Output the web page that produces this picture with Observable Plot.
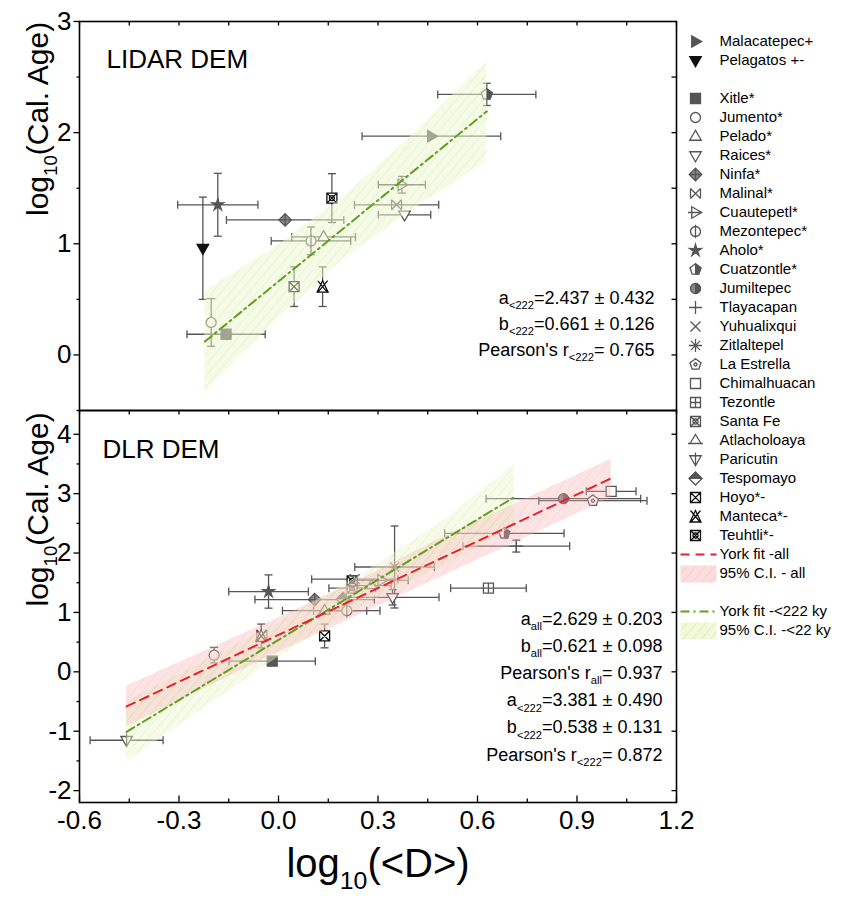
<!DOCTYPE html>
<html><head><meta charset="utf-8">
<script src="https://cdn.jsdelivr.net/npm/d3@7"></script>
<script src="https://cdn.jsdelivr.net/npm/@observablehq/plot@0.6"></script>
<style>
body{margin:0;background:#fff;}
#chart{position:relative;width:845px;height:901px;}
#chart svg{position:absolute;left:0;top:0;overflow:visible;background:transparent;}
</style></head><body><div id="chart"></div>
<script>
// ---------- data ----------
// legend order (gap slots are unnamed spacers)
const legendSlots = ["Malacatepec+", "Pelagatos +-", "gap1", "Xitle*", "Jumento*", "Pelado*", "Raices*", "Ninfa*", "Malinal*",
  "Cuautepetl*", "Mezontepec*", "Aholo*", "Cuatzontle*", "Jumiltepec", "Tlayacapan", "Yuhualixqui", "Zitlaltepel",
  "La Estrella", "Chimalhuacan", "Tezontle", "Santa Fe", "Atlacholoaya", "Paricutin", "Tespomayo", "Hoyo*-",
  "Manteca*-", "Teuhtli*-", "fitAll", "ciAll", "gap2", "fit222", "ci222"];
const fitLabels = {fitAll: "York fit -all", ciAll: "95% C.I. - all", fit222: "York fit -<222 ky", ci222: "95% C.I. -<22 ky"};

// LIDAR DEM panel
const lidarName = ["Malacatepec+", "Pelagatos +-", "Xitle*", "Jumento*", "Pelado*", "Mezontepec*", "Raices*", "Ninfa*",
  "Malinal*", "Cuautepetl*", "Aholo*", "Cuatzontle*", "Hoyo*-", "Manteca*-", "Teuhtli*-"];
const lidarX    = [0.461, -0.228, -0.158, -0.203, 0.136, 0.098, 0.380, 0.020, 0.356, 0.372, -0.183, 0.628, 0.047, 0.133, 0.161];
const lidarY    = [1.968, 0.960, 0.186, 0.292, 1.062, 1.026, 1.261, 1.215, 1.351, 1.531, 1.351, 2.344, 0.614, 0.614, 1.411];
const lidarXErr = [0.209, 0, 0.118, 0, 0.096, 0.120, 0.079, 0.177, 0.127, 0.071, 0.121, 0.148, 0, 0, 0];
const lidarYErr = [0, 0.46, 0, 0.215, 0, 0.125, 0, 0, 0, 0.075, 0.283, 0.100, 0.178, 0.178, 0.220];

// DLR DEM panel
const dlrName = ["Paricutin", "Jumento*", "Xitle*", "Malinal*", "Manteca*-", "Hoyo*-", "Aholo*", "Ninfa*", "Pelado*",
  "Mezontepec*", "Tespomayo", "Santa Fe", "Teuhtli*-", "Yuhualixqui", "Atlacholoaya", "Cuautepetl*", "Raices*",
  "Zitlaltepel", "Tezontle", "Cuatzontle*", "Tlayacapan", "Jumiltepec", "La Estrella", "Chimalhuacan"];
const dlrX    = [-0.458, -0.194, -0.019, -0.050, -0.052, 0.139, -0.030, 0.109, 0.139, 0.206, 0.194, 0.222, 0.222, 0.230, 0.280, 0.311, 0.344, 0.350, 0.633, 0.681, 0.717, 0.859, 0.948, 1.003];
const dlrY    = [-1.152, 0.281, 0.179, 0.620, 0.604, 0.604, 1.352, 1.216, 1.029, 1.029, 1.227, 1.408, 1.530, 1.560, 1.450, 1.540, 1.255, 1.765, 1.408, 2.332, 2.117, 2.916, 2.882, 3.040];
const dlrXErr = [0.110, 0, 0.130, 0, 0, 0, 0.120, 0.180, 0.127, 0.100, 0, 0.070, 0, 0.130, 0.060, 0.080, 0.140, 0.120, 0.114, 0.180, 0.161, 0.233, 0.163, 0.075];
const dlrYErr = [0, 0.13, 0, 0, 0.20, 0.20, 0.28, 0, 0, 0, 0, 0, 0, 0, 0, 0, 0.13, 0.69, 0, 0, 0.10, 0, 0, 0];

// York fits: log10(age) = a·log10(D) + b
const fitLidar222 = {a: 2.437, b: 0.661, x: [-0.222, 0.628]};
const fitDlrAll = {a: 2.629, b: 0.621, x: [-0.458, 1.003]};
const fitDlr222 = {a: 3.381, b: 0.538, x: [-0.458, 0.711]};

// 95 % confidence bands
const bandLidarX  = [-0.222, 0.0, 0.2, 0.4, 0.628];
const bandLidarLo = [-0.33, 0.33, 0.87, 1.30, 1.74];
const bandLidarHi = [0.57, 0.99, 1.43, 1.97, 2.64];
const bandDlrAllX  = [-0.458, 0.0, 0.25, 0.5, 1.003];
const bandDlrAllLo = [-0.93, 0.33, 0.98, 1.62, 2.93];
const bandDlrAllHi = [-0.24, 0.91, 1.56, 2.28, 3.58];
const bandDlr222X  = [-0.458, 0.0, 0.25, 0.5, 0.711];
const bandDlr222Lo = [-1.52, 0.25, 1.10, 1.80, 2.45];
const bandDlr222Hi = [-0.50, 0.83, 1.64, 2.56, 3.48];

// axis ticks
const xMajor = [-0.6, -0.3, 0.0, 0.3, 0.6, 0.9, 1.2];
const xMinor = [-0.45, -0.15, 0.15, 0.45, 0.75, 1.05];
const yMajorLidar = [0, 1, 2, 3];
const yMinorLidar = [-0.5, 0.5, 1.5, 2.5];
const yMajorDlr = [-2, -1, 0, 1, 2, 3, 4];
const yMinorDlr = [-1.5, -0.5, 0.5, 1.5, 2.5, 3.5];

const annLidar = ["a_{<222}=2.437 ± 0.432", "b_{<222}=0.661 ± 0.126", "Pearson's r_{<222}= 0.765"];
const annDlr = ["a_{all}=2.629 ± 0.203", "b_{all}=0.621 ± 0.098", "Pearson's r_{all}= 0.937",
  "a_{<222}=3.381 ± 0.490", "b_{<222}=0.538 ± 0.131", "Pearson's r_{<222}= 0.872"];

// ---------- marker shapes ----------
const GRAY = "#555", DARK = "#111";
function sym(draw) { return {draw(ctx, size) { draw(ctx, Math.sqrt(size / Math.PI)); }}; }
function poly(c, pts) { c.moveTo(pts[0][0], pts[0][1]); for (let i = 1; i < pts.length; ++i) c.lineTo(pts[i][0], pts[i][1]); c.closePath(); }
function seg(c, x1, y1, x2, y2) { c.moveTo(x1, y1); c.lineTo(x2, y2); }
function circ(c, r) { c.moveTo(r, 0); c.arc(0, 0, r, 0, 2 * Math.PI); }
function ngon(n, r) { return d3.range(n).map(i => { const a = -Math.PI / 2 + i * 2 * Math.PI / n; return [r * Math.cos(a), r * Math.sin(a)]; }); }
function star(r) { return d3.range(10).map(i => { const a = -Math.PI / 2 + i * Math.PI / 5, k = i % 2 ? 0.45 * r : 1.25 * r; return [k * Math.cos(a), k * Math.sin(a)]; }); }

const SHAPES = {
  square: sym((c, r) => poly(c, [[-r, -r], [r, -r], [r, r], [-r, r]])),
  circle: sym((c, r) => circ(c, r)),
  triUp: sym((c, r) => poly(c, [[0, -1.25 * r], [1.15 * r, 0.75 * r], [-1.15 * r, 0.75 * r]])),
  triDown: sym((c, r) => poly(c, [[0, 1.25 * r], [1.15 * r, -0.75 * r], [-1.15 * r, -0.75 * r]])),
  triRight: sym((c, r) => poly(c, [[1.25 * r, 0], [-0.75 * r, -1.15 * r], [-0.75 * r, 1.15 * r]])),
  diamondCross: sym((c, r) => { poly(c, [[0, -1.25 * r], [1.25 * r, 0], [0, 1.25 * r], [-1.25 * r, 0]]); seg(c, -1.25 * r, 0, 1.25 * r, 0); seg(c, 0, -1.25 * r, 0, 1.25 * r); }),
  bowtie: sym((c, r) => { seg(c, -r, -r, r, r); seg(c, -r, r, r, -r); seg(c, -r, -r, -r, r); seg(c, r, -r, r, r); }),
  bowtieTri: sym((c, r) => { seg(c, -r, -1.2 * r, r, 1.2 * r); seg(c, -r, 1.2 * r, r, -1.2 * r); poly(c, [[0, -1.2 * r], [1.1 * r, 1.1 * r], [-1.1 * r, 1.1 * r]]); }),
  triRightLine: sym((c, r) => { poly(c, [[1.25 * r, 0], [-0.75 * r, -1.15 * r], [-0.75 * r, 1.15 * r]]); seg(c, -1.5 * r, 0, 1.25 * r, 0); }),
  circleVLine: sym((c, r) => { circ(c, r); seg(c, 0, -1.35 * r, 0, 1.35 * r); }),
  star: sym((c, r) => poly(c, star(r))),
  pentagon: sym((c, r) => poly(c, ngon(5, 1.15 * r))),
  pentagonDot: sym((c, r) => { poly(c, ngon(5, 1.15 * r)); circ(c, 0.3 * r); }),
  plus: sym((c, r) => { seg(c, -1.3 * r, 0, 1.3 * r, 0); seg(c, 0, -1.3 * r, 0, 1.3 * r); }),
  times: sym((c, r) => { seg(c, -r, -r, r, r); seg(c, -r, r, r, -r); }),
  asterisk: sym((c, r) => { for (let i = 0; i < 4; ++i) { const a = i * Math.PI / 4; seg(c, -1.3 * r * Math.cos(a), -1.3 * r * Math.sin(a), 1.3 * r * Math.cos(a), 1.3 * r * Math.sin(a)); } }),
  squarePlus: sym((c, r) => { poly(c, [[-r, -r], [r, -r], [r, r], [-r, r]]); seg(c, -r, 0, r, 0); seg(c, 0, -r, 0, r); }),
  squareX: sym((c, r) => { poly(c, [[-r, -r], [r, -r], [r, r], [-r, r]]); seg(c, -r, -r, r, r); seg(c, -r, r, r, -r); }),
  squareXCircle: sym((c, r) => { poly(c, [[-r, -r], [r, -r], [r, r], [-r, r]]); seg(c, -r, -r, r, r); seg(c, -r, r, r, -r); circ(c, 0.5 * r); }),
  triUpBase: sym((c, r) => { poly(c, [[0, -1.2 * r], [1.1 * r, 0.6 * r], [-1.1 * r, 0.6 * r]]); seg(c, -1.5 * r, 0.6 * r, 1.5 * r, 0.6 * r); }),
  triDownLine: sym((c, r) => { poly(c, [[0, 1.25 * r], [1.15 * r, -0.75 * r], [-1.15 * r, -0.75 * r]]); seg(c, 0, -1.4 * r, 0, 1.25 * r); }),
  diamond: sym((c, r) => poly(c, [[0, -1.3 * r], [1.3 * r, 0], [0, 1.3 * r], [-1.3 * r, 0]])),
  // half-filled overlays
  circleRight: sym((c, r) => { c.moveTo(0, -r); c.arc(0, 0, r, -Math.PI / 2, Math.PI / 2); c.closePath(); }),
  pentagonRight: sym((c, r) => { const p = ngon(5, 1.15 * r); poly(c, [p[0], p[1], p[2], [0, p[2][1]]]); }),
  diamondTop: sym((c, r) => poly(c, [[0, -1.3 * r], [1.3 * r, 0], [-1.3 * r, 0]])),
  // error-bar caps
  capV: {draw(c) { seg(c, 0, -4, 0, 4); }},
  capH: {draw(c) { seg(c, -4, 0, 4, 0); }}
};

const markerStyle = {
  "Malacatepec+": {s: "triRight", fill: GRAY},
  "Pelagatos +-": {s: "triDown", fill: DARK, stroke: DARK},
  "Xitle*": {s: "square", fill: GRAY},
  "Jumento*": {s: "circle"},
  "Pelado*": {s: "triUp"},
  "Raices*": {s: "triDown"},
  "Ninfa*": {s: "diamondCross", fill: "#8a8a8a"},
  "Malinal*": {s: "bowtie"},
  "Cuautepetl*": {s: "triRightLine"},
  "Mezontepec*": {s: "circleVLine"},
  "Aholo*": {s: "star", fill: GRAY},
  "Cuatzontle*": {s: "pentagon", half: "pentagonRight"},
  "Jumiltepec": {s: "circle", fill: "#8a8a8a", half: "circleRight"},
  "Tlayacapan": {s: "plus"},
  "Yuhualixqui": {s: "times"},
  "Zitlaltepel": {s: "asterisk"},
  "La Estrella": {s: "pentagonDot"},
  "Chimalhuacan": {s: "square"},
  "Tezontle": {s: "squarePlus"},
  "Santa Fe": {s: "squareXCircle"},
  "Atlacholoaya": {s: "triUpBase"},
  "Paricutin": {s: "triDownLine"},
  "Tespomayo": {s: "diamond", half: "diamondTop"},
  "Hoyo*-": {s: "squareX", stroke: DARK},
  "Manteca*-": {s: "bowtieTri", stroke: DARK},
  "Teuhtli*-": {s: "squareXCircle", stroke: DARK}
};

function markerMarks(data, opts = {}) {
  const marks = [];
  for (const d of data) {
    const st = markerStyle[d.name];
    const stroke = st.stroke || GRAY;
    const pos = {x: "x", y: "y", ...opts};
    marks.push(Plot.dot([d], {...pos, r: 5, symbol: SHAPES[st.s], fill: st.fill || "white", stroke, strokeWidth: 1.3}));
    if (st.half) marks.push(Plot.dot([d], {...pos, r: 5, symbol: SHAPES[st.half], fill: GRAY, stroke, strokeWidth: 1}));
  }
  return marks;
}

function errorMarks(data) {
  const xe = data.filter(d => d.xe > 0), ye = data.filter(d => d.ye > 0);
  const s = {stroke: GRAY, strokeWidth: 1.3};
  return [
    Plot.link(xe, {x1: d => d.x - d.xe, x2: d => d.x + d.xe, y1: "y", y2: "y", ...s}),
    Plot.dot(xe, {x: d => d.x - d.xe, y: "y", symbol: SHAPES.capV, ...s}),
    Plot.dot(xe, {x: d => d.x + d.xe, y: "y", symbol: SHAPES.capV, ...s}),
    Plot.link(ye, {x1: "x", x2: "x", y1: d => d.y - d.ye, y2: d => d.y + d.ye, ...s}),
    Plot.dot(ye, {x: "x", y: d => d.y - d.ye, symbol: SHAPES.capH, ...s}),
    Plot.dot(ye, {x: "x", y: d => d.y + d.ye, symbol: SHAPES.capH, ...s})
  ];
}

const tick = (dx, dy) => ({draw(c) { c.moveTo(0, 0); c.lineTo(dx, dy); }});
const FONT = "'Liberation Sans', Arial, sans-serif";

function fitLine(f) { return f.x.map(x => ({x, y: f.a * x + f.b})); }
function band(xs, lo, hi) { return xs.map((x, i) => ({x, lo: lo[i], hi: hi[i]})); }

function panelAxes(yMajor, yMinor, yRight, withXLabels) {
  const ax = {stroke: "black", strokeWidth: 1.3};
  const m = [
    Plot.dot(xMajor.concat(xMinor), {x: d => d, frameAnchor: "top", symbol: tick(0, 4), ...ax}),
    Plot.dot(yMajor, {y: d => d, frameAnchor: "left", symbol: tick(-6, 0), ...ax}),
    Plot.dot(yMinor, {y: d => d, frameAnchor: "left", symbol: tick(-3, 0), ...ax}),
    Plot.dot(yRight, {y: d => d, frameAnchor: "right", symbol: tick(-5, 0), ...ax}),
    Plot.text(yMajor, {y: d => d, text: d => String(d), frameAnchor: "left", dx: -8, textAnchor: "end", fontSize: 26})
  ];
  if (withXLabels) {
    m.push(Plot.dot(xMajor, {x: d => d, frameAnchor: "bottom", symbol: tick(0, -7), ...ax}));
    m.push(Plot.dot(xMinor, {x: d => d, frameAnchor: "bottom", symbol: tick(0, -4), ...ax}));
    m.push(Plot.text(xMajor, {x: d => d, text: d => d.toFixed(1), frameAnchor: "bottom", dy: 26, fontSize: 26}));
  }
  m.push(Plot.frame({stroke: "black", strokeWidth: 1.6}));
  return m;
}

const lidar = lidarName.map((name, i) => ({name, x: lidarX[i], y: lidarY[i], xe: lidarXErr[i], ye: lidarYErr[i]}));
const dlr = dlrName.map((name, i) => ({name, x: dlrX[i], y: dlrY[i], xe: dlrXErr[i], ye: dlrYErr[i]}));

// ---------- LIDAR panel ----------
const plotLidar = Plot.plot({
  width: 845, height: 901, marginLeft: 79, marginRight: 169, marginTop: 21, marginBottom: 491,
  style: {fontFamily: FONT, background: "transparent", color: "black"},
  x: {domain: [-0.6, 1.2], axis: null},
  y: {domain: [-0.5, 3], axis: null},
  marks: [
    ...errorMarks(lidar),
    ...markerMarks(lidar),
    Plot.areaY(band(bandLidarX, bandLidarLo, bandLidarHi), {x: "x", y1: "lo", y2: "hi", fill: "url(#hatchGreen)", fillOpacity: 0.5}),
    Plot.line(fitLine(fitLidar222), {x: "x", y: "y", stroke: "#5fa01e", strokeWidth: 2, strokeDasharray: "9,4,2,4"}),
    Plot.text(["LIDAR DEM"], {frameAnchor: "top-left", dx: 27, dy: 28, fontSize: 26, textAnchor: "start"}),
    ...annLidar.map((t, i) => Plot.text([t], {frameAnchor: "bottom-right", dx: -22, dy: -107 + 26 * i, fontSize: 18, textAnchor: "end"})),
    Plot.text(["log_{10}(Cal. Age)"], {frameAnchor: "left", dx: -41, rotate: -90, fontSize: 30}),
    ...panelAxes(yMajorLidar, yMinorLidar, [-0.5, 0, 0.5, 1, 1.5, 2, 2.5], false)
  ]
});

// ---------- DLR panel ----------
const plotDlr = Plot.plot({
  width: 845, height: 901, marginLeft: 79, marginRight: 169, marginTop: 410, marginBottom: 99,
  style: {fontFamily: FONT, background: "transparent", color: "black"},
  x: {domain: [-0.6, 1.2], axis: null},
  y: {domain: [-2.2, 4.4], axis: null},
  marks: [
    ...errorMarks(dlr),
    ...markerMarks(dlr),
    Plot.areaY(band(bandDlr222X, bandDlr222Lo, bandDlr222Hi), {x: "x", y1: "lo", y2: "hi", fill: "url(#hatchGreen)", fillOpacity: 0.45}),
    Plot.areaY(band(bandDlrAllX, bandDlrAllLo, bandDlrAllHi), {x: "x", y1: "lo", y2: "hi", fill: "url(#hatchRed)", fillOpacity: 0.35}),
    Plot.line(fitLine(fitDlr222), {x: "x", y: "y", stroke: "#5fa01e", strokeWidth: 2, strokeDasharray: "9,4,2,4"}),
    Plot.line(fitLine(fitDlrAll), {x: "x", y: "y", stroke: "#e8202a", strokeWidth: 2, strokeDasharray: "9,6"}),
    Plot.text(["DLR DEM"], {frameAnchor: "top-left", dx: 23, dy: 29, fontSize: 26, textAnchor: "start"}),
    ...annDlr.map((t, i) => Plot.text([t], {frameAnchor: "bottom-right", dx: -14, dy: -178 + 27.2 * i, fontSize: 18, textAnchor: "end"})),
    Plot.text(["log_{10}(Cal. Age)"], {frameAnchor: "left", dx: -41, rotate: -90, fontSize: 30}),
    Plot.text(["log_{10}(<D>)"], {frameAnchor: "bottom", dy: 74, fontSize: 40}),
    ...panelAxes(yMajorDlr, yMinorDlr, yMajorDlr, true)
  ]
});

// ---------- legend ----------
const symbolSlots = legendSlots.filter(s => markerStyle[s]);
const rectSym = {draw(c) { poly(c, [[0, -8], [36, -8], [36, 9], [0, 9]]); }};
const plotLegend = Plot.plot({
  width: 845, height: 901, marginLeft: 680, marginRight: 0, marginTop: 35, marginBottom: 266,
  style: {fontFamily: FONT, background: "transparent", color: "black"},
  y: {type: "point", domain: legendSlots, padding: 0, axis: null},
  marks: [
    ...markerMarks(symbolSlots.map(name => ({name})), {x: undefined, y: "name", frameAnchor: "left", dx: 15}),
    Plot.text(symbolSlots, {y: d => d, text: d => d, frameAnchor: "left", dx: 39, fontSize: 15, textAnchor: "start"}),
    Plot.text(Object.keys(fitLabels), {y: d => d, text: d => fitLabels[d], frameAnchor: "left", dx: 39, fontSize: 15, textAnchor: "start"}),
    Plot.dot(["fitAll"], {y: d => d, frameAnchor: "left", symbol: tick(36, 0), stroke: "#e8202a", strokeWidth: 2, strokeDasharray: "9,6"}),
    Plot.dot(["fit222"], {y: d => d, frameAnchor: "left", symbol: tick(36, 0), stroke: "#5fa01e", strokeWidth: 2, strokeDasharray: "9,4,2,4"}),
    Plot.dot(["ciAll"], {y: d => d, frameAnchor: "left", symbol: rectSym, fill: "url(#hatchRed)", fillOpacity: 0.45}),
    Plot.dot(["ci222"], {y: d => d, frameAnchor: "left", symbol: rectSym, fill: "url(#hatchGreen)", fillOpacity: 0.75})
  ]
});

// hatch patterns for the confidence bands
function addPatterns(svg) {
  const defs = d3.select(svg).insert("defs", ":first-child");
  const mk = (id, bg, line) => {
    const p = defs.append("pattern").attr("id", id).attr("patternUnits", "userSpaceOnUse")
      .attr("width", 7).attr("height", 7).attr("patternTransform", "rotate(40)");
    p.append("rect").attr("width", 7).attr("height", 7).attr("fill", bg);
    p.append("line").attr("x1", 0).attr("y1", 0).attr("x2", 0).attr("y2", 7).attr("stroke", line).attr("stroke-width", 1.4);
  };
  mk("hatchGreen", "#eef7cf", "#cfe69a");
  mk("hatchRed", "#f6b3b3", "#ee9090");
}

// turn "_{...}" markup into subscript tspans
function subscripts(svg) {
  d3.select(svg).selectAll("text").each(function() {
    const t = this.textContent;
    if (!t.includes("_{")) return;
    const fs = parseFloat(this.getAttribute("font-size") || d3.select(this.parentNode).attr("font-size") || 16);
    const parts = t.split(/(_\{[^}]*\})/).filter(s => s.length);
    while (this.firstChild) this.removeChild(this.firstChild);
    let shifted = false;
    for (const p of parts) {
      const ts = document.createElementNS("http://www.w3.org/2000/svg", "tspan");
      if (p.startsWith("_{")) {
        ts.textContent = p.slice(2, -1);
        ts.setAttribute("font-size", 0.62 * fs);
        ts.setAttribute("dy", 0.3 * fs);
        shifted = true;
      } else {
        ts.textContent = p;
        if (shifted) { ts.setAttribute("dy", -0.3 * fs); shifted = false; }
      }
      this.appendChild(ts);
    }
  });
}

const root = document.getElementById("chart");
for (const svg of [plotLidar, plotDlr, plotLegend]) root.appendChild(svg);
addPatterns(plotLidar);
for (const svg of [plotLidar, plotDlr]) subscripts(svg);
</script>
</body></html>
